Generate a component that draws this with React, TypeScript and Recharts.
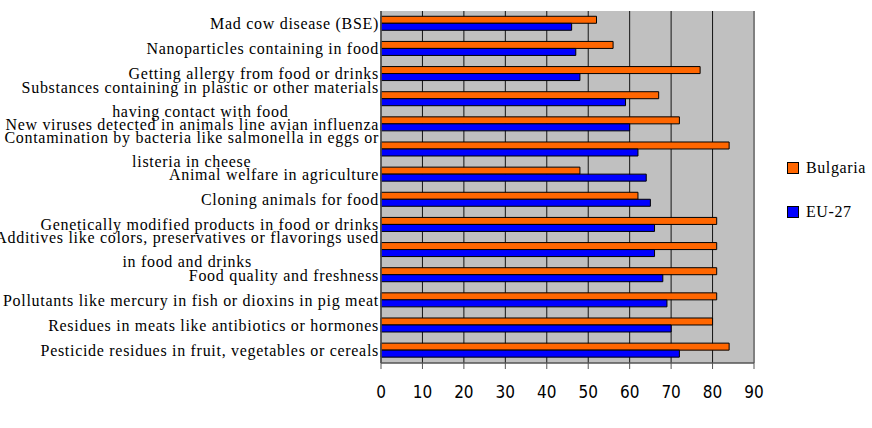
import React from "react";
import {
  BarChart,
  Bar,
  XAxis,
  YAxis,
  CartesianGrid,
  ReferenceLine,
} from "recharts";

// Concern categories, top to bottom; "\n" marks a wrapped second line
const categories = [
  "Mad cow disease (BSE)",
  "Nanoparticles containing in food",
  "Getting allergy from food or drinks",
  "Substances containing in plastic or other materials\nhaving contact with food",
  "New viruses detected in animals line avian influenza",
  "Contamination by bacteria like salmonella in eggs or\nlisteria in cheese",
  "Animal welfare in agriculture",
  "Cloning animals for food",
  "Genetically modified products in food or drinks",
  "Additives like colors, preservatives or flavorings used\nin food and drinks",
  "Food quality and freshness",
  "Pollutants like mercury in fish or dioxins in pig meat",
  "Residues in meats like antibiotics or hormones",
  "Pesticide residues in fruit, vegetables or cereals",
];

const bulgaria = [52, 56, 77, 67, 72, 84, 48, 62, 81, 81, 81, 81, 80, 84];
const eu27 = [46, 47, 48, 59, 60, 62, 64, 65, 66, 66, 68, 69, 70, 72];

const xTicks = [0, 10, 20, 30, 40, 50, 60, 70, 80, 90];

const series = [
  { key: "bulgaria", name: "Bulgaria", color: "#ff6600" },
  { key: "eu27", name: "EU-27", color: "#0000ff" },
];

const data = categories.map((c, i) => ({
  category: c,
  bulgaria: bulgaria[i],
  eu27: eu27[i],
}));

const SERIF = "'Liberation Serif', 'Times New Roman', serif";
const NARROW = "'Liberation Sans Narrow', 'DejaVu Sans Condensed', 'Arial Narrow', sans-serif";
const LABEL_SIZE = 16;
const LABEL_SPACING = 0.7;

let measureCtx: CanvasRenderingContext2D | null = null;
function measure(text: string): number {
  if (!measureCtx) {
    const c = document.createElement("canvas");
    measureCtx = c.getContext("2d");
  }
  if (!measureCtx) return text.length * 7;
  measureCtx.font = `${LABEL_SIZE}px ${SERIF}`;
  (measureCtx as any).letterSpacing = `${LABEL_SPACING}px`;
  return measureCtx.measureText(text).width;
}

function CategoryTick(props: any) {
  const { y, payload } = props;
  const right = 379;
  const lines: string[] = String(payload.value).split("\n");
  const style = {
    fontFamily: SERIF,
    fontSize: LABEL_SIZE,
    letterSpacing: LABEL_SPACING,
    fill: "#000",
  } as React.CSSProperties;
  if (lines.length === 1) {
    return (
      <text x={right} y={y} dy="0.35em" textAnchor="end" style={style}>
        {lines[0]}
      </text>
    );
  }
  const w = measure(lines[0]);
  return (
    <g>
      <text x={right} y={y - 12} dy="0.35em" textAnchor="end" style={style}>
        {lines[0]}
      </text>
      <text x={right - w / 2} y={y + 12} dy="0.35em" textAnchor="middle" style={style}>
        {lines[1]}
      </text>
    </g>
  );
}

function ValueTick(props: any) {
  const { x, payload } = props;
  return (
    <text
      x={x}
      y={392}
      dy="0.35em"
      textAnchor="middle"
      style={{ fontFamily: NARROW, fontSize: 17, fill: "#000" }}
    >
      {payload.value}
    </text>
  );
}

export default function App() {
  return (
    <div style={{ position: "absolute", left: 0, top: 0, width: 872, height: 428, background: "#fff" }}>
      <BarChart
        width={872}
        height={428}
        data={data}
        layout="vertical"
        margin={{ top: 11, right: 118, bottom: 0, left: 0 }}
        barCategoryGap="21%"
        barGap={0}
      >
        <CartesianGrid
          horizontal={false}
          vertical={true}
          stroke="#000"
          strokeOpacity={0.9}
          fill="#c0c0c0"
          fillOpacity={1}
        />
        <XAxis
          type="number"
          domain={[0, 90]}
          ticks={xTicks}
          interval={0}
          height={65}
          axisLine={{ stroke: "#555", strokeWidth: 1.5 }}
          tickLine={{ stroke: "#555" }}
          tickSize={6}
          tick={<ValueTick />}
        />
        <XAxis
          xAxisId="top"
          orientation="top"
          type="number"
          domain={[0, 90]}
          height={0}
          tick={false}
          tickLine={false}
          axisLine={{ stroke: "#808080", strokeWidth: 1.5 }}
        />
        <YAxis
          type="category"
          dataKey="category"
          width={381}
          interval={0}
          tickLine={false}
          axisLine={{ stroke: "#555", strokeWidth: 1.5 }}
          tick={<CategoryTick />}
        />
        <ReferenceLine x={90} stroke="#808080" strokeWidth={2} />
        {series.map((s) => (
          <Bar
            key={s.key}
            dataKey={s.key}
            name={s.name}
            fill={s.color}
            stroke="#000"
            strokeWidth={1}
            isAnimationActive={false}
          />
        ))}
      </BarChart>
      <div style={{ position: "absolute", left: 787, top: 157, fontFamily: SERIF, fontSize: 16 }}>
        {series.map((s) => (
          <div key={s.key} style={{ display: "flex", alignItems: "center", height: 22, marginBottom: 22 }}>
            <span
              style={{
                display: "inline-block",
                width: 10,
                height: 10,
                background: s.color,
                border: "1px solid #000",
                marginRight: 7,
              }}
            />
            <span style={{ letterSpacing: 0.6 }}>{s.name}</span>
          </div>
        ))}
      </div>
    </div>
  );
}
